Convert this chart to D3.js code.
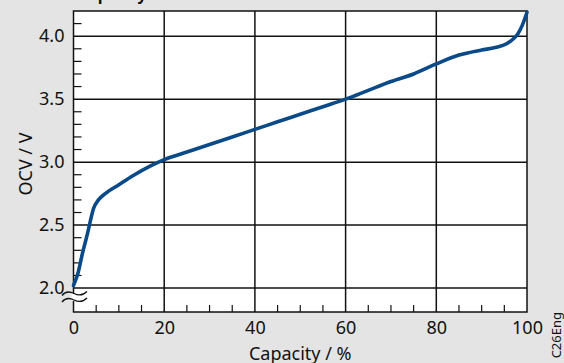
<!DOCTYPE html>
<html><head><meta charset="utf-8">
<script src="https://cdn.jsdelivr.net/npm/d3@7"></script>
<style>html,body{margin:0;padding:0;background:#e3e4e3;}svg{display:block;}</style>
</head><body><svg id="c" width="564" height="363"></svg>
<script>
const capacity = [0, 1, 2, 3, 3.7, 4.4, 5.5, 7, 10, 13, 17, 20, 25, 30, 35, 40, 45, 50, 55, 60, 65, 70, 75, 80, 85, 90, 93, 95.5, 97, 98, 99, 100];
const ocv      = [2.02, 2.12, 2.28, 2.42, 2.53, 2.63, 2.70, 2.75, 2.82, 2.89, 2.97, 3.02, 3.08, 3.14, 3.20, 3.26, 3.32, 3.38, 3.44, 3.50, 3.57, 3.64, 3.70, 3.78, 3.85, 3.89, 3.91, 3.94, 3.98, 4.02, 4.09, 4.19];
const xTicks = [0, 20, 40, 60, 80, 100];
const yTicks = [2.0, 2.5, 3.0, 3.5, 4.0];
const xMinor = [5,10,15,25,30,35,45,50,55,65,70,75,85,90,95];
const yMinor = [2.1,2.2,2.3,2.4,2.6,2.7,2.8,2.9,3.1,3.2,3.3,3.4,3.6,3.7,3.8,3.9,4.1];
const xLabel = "Capacity / %", yLabel = "OCV / V", title = "Capacity", sideNote = "C26Eng";

const svg = d3.select("#c");
const L = 73.5, R = 527, T = 11, B = 312;
const x = d3.scaleLinear().domain([0, 100]).range([L, R]);
const y = d3.scaleLinear().domain([1.81, 4.2]).range([B, T]);
const font = "'Noto Sans', 'Open Sans', sans-serif";

svg.append("text").attr("x", 78).attr("y", -0.5).attr("font-family", font).attr("font-weight", "bold")
  .attr("font-size", 16).attr("fill", "#111").text(title);

svg.append("rect").attr("x", L).attr("y", T).attr("width", R - L).attr("height", B - T).attr("fill", "#fff");

// grid
svg.append("g").selectAll("line").data(xTicks.filter(d => d > 0 && d < 100)).join("line")
  .attr("x1", d => x(d)).attr("x2", d => x(d)).attr("y1", T).attr("y2", B)
  .attr("stroke", "#111").attr("stroke-width", 1.5);
svg.append("g").selectAll("line").data(yTicks).join("line")
  .attr("x1", L).attr("x2", R).attr("y1", d => y(d)).attr("y2", d => y(d))
  .attr("stroke", "#111").attr("stroke-width", 1.5);

// minor ticks
svg.append("g").selectAll("line").data(yMinor).join("line")
  .attr("x1", L).attr("x2", L + 8).attr("y1", d => y(d)).attr("y2", d => y(d))
  .attr("stroke", "#111").attr("stroke-width", 1.2);
svg.append("g").selectAll("line").data(xMinor).join("line")
  .attr("x1", d => x(d)).attr("x2", d => x(d)).attr("y1", B).attr("y2", B - 7)
  .attr("stroke", "#111").attr("stroke-width", 1.2);

// frame
svg.append("rect").attr("x", L).attr("y", T).attr("width", R - L).attr("height", B - T)
  .attr("fill", "none").attr("stroke", "#111").attr("stroke-width", 1.5);

// axes labels via d3 axes (domain hidden)
const xAxis = svg.append("g").attr("transform", `translate(0,${B})`)
  .call(d3.axisBottom(x).tickValues(xTicks).tickSize(0).tickPadding(9).tickFormat(d3.format("d")));
const yAxis = svg.append("g").attr("transform", `translate(${L},0)`)
  .call(d3.axisLeft(y).tickValues(yTicks).tickSize(0).tickPadding(9).tickFormat(d3.format(".1f")));
[xAxis, yAxis].forEach(g => {
  g.select(".domain").remove();
  g.selectAll("text").attr("font-family", font).attr("font-size", 18).attr("fill", "#111");
});

// axis break
svg.append("rect").attr("x", L - 2).attr("y", 293).attr("width", 4).attr("height", 8).attr("fill", "#fff");
[293.5, 300].forEach(yy => {
  svg.append("path").attr("d", `M62,${yy + 2} C66,${yy - 3} 70,${yy - 2} 74,${yy} S82,${yy + 3} 87,${yy - 2}`)
    .attr("fill", "none").attr("stroke", "#111").attr("stroke-width", 1.3);
});

// curve
const data = capacity.map((c, i) => [c, ocv[i]]);
svg.append("path").datum(data)
  .attr("d", d3.line().x(d => x(d[0])).y(d => y(d[1])).curve(d3.curveMonotoneX))
  .attr("fill", "none").attr("stroke", "#0b4a88").attr("stroke-width", 3.6)
  .attr("stroke-linecap", "round").attr("stroke-linejoin", "round");

// labels
svg.append("text").attr("x", (L + R) / 2).attr("y", 360).attr("text-anchor", "middle")
  .attr("font-family", font).attr("font-size", 18).attr("fill", "#111").text(xLabel);
svg.append("text").attr("transform", `translate(32,164) rotate(-90)`).attr("text-anchor", "middle")
  .attr("font-family", font).attr("font-size", 18).attr("fill", "#111").text(yLabel);
svg.append("text").attr("transform", `translate(561,312) rotate(-90)`).attr("text-anchor", "end")
  .attr("font-family", font).attr("font-size", 13).attr("fill", "#111").text(sideNote);
</script></body></html>
